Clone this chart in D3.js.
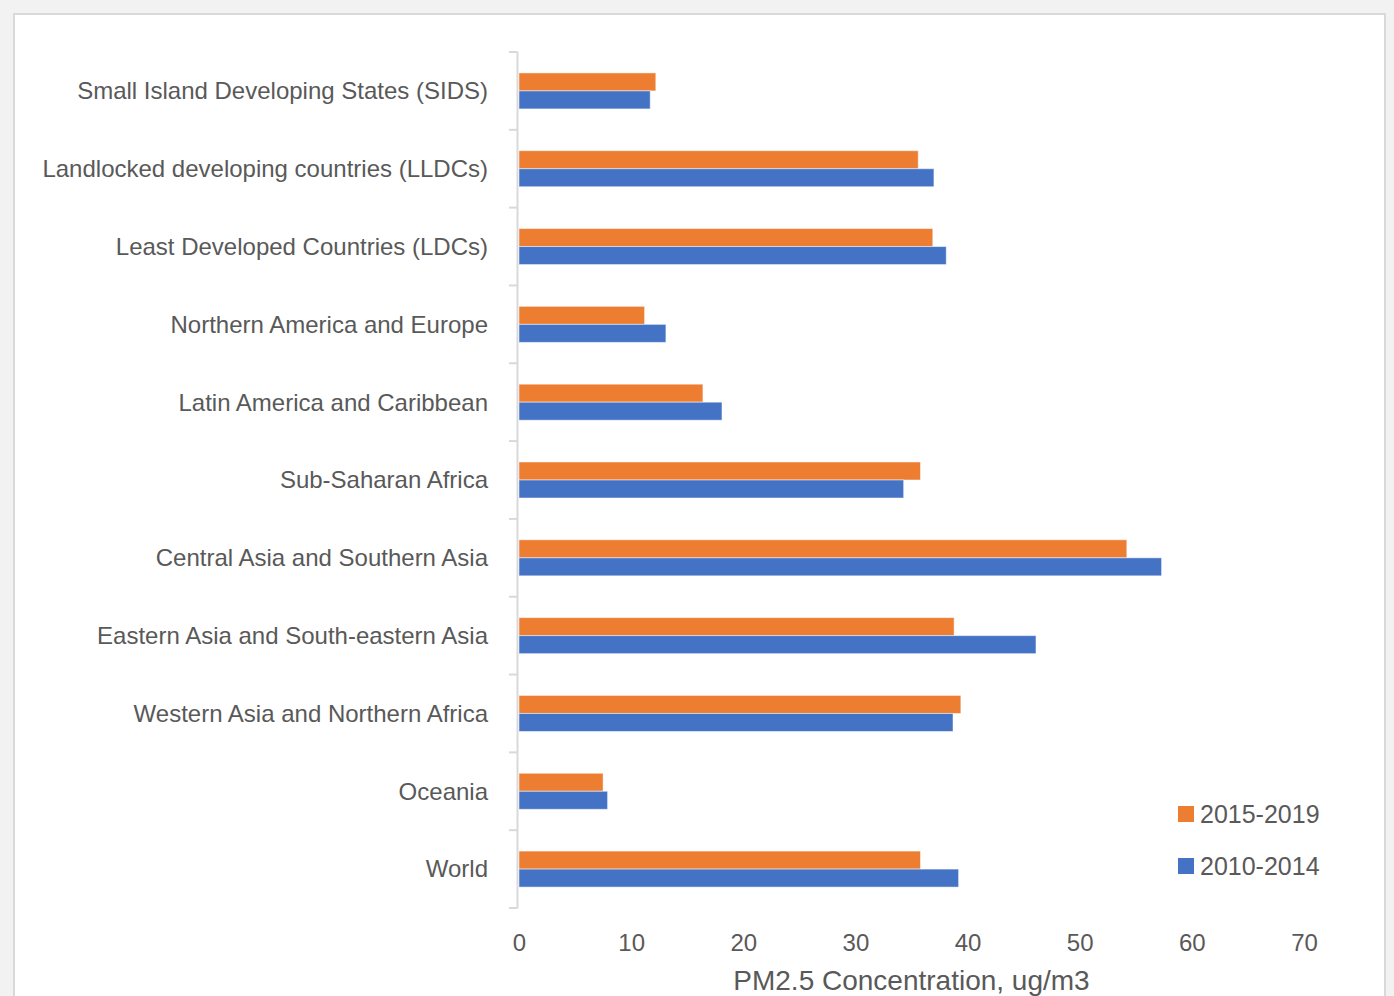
<!DOCTYPE html>
<html>
<head>
<meta charset="utf-8">
<script src="https://cdn.jsdelivr.net/npm/d3@7"></script>
<style>
  body { margin: 0; background: #f2f2f2; }
  svg text { font-family: "Liberation Sans", Arial, sans-serif; fill: #595959; }
</style>
</head>
<body>
<div id="main"></div>
<script>
// categories, top to bottom as in the chart
const categories = [
  "Small Island Developing States (SIDS)",
  "Landlocked developing countries (LLDCs)",
  "Least Developed Countries (LDCs)",
  "Northern America and Europe",
  "Latin America and Caribbean",
  "Sub-Saharan Africa",
  "Central Asia and Southern Asia",
  "Eastern Asia and South-eastern Asia",
  "Western Asia and Northern Africa",
  "Oceania",
  "World"
];
const series = ["2015-2019", "2010-2014"];
const values2015 = [12.2, 35.6, 36.9, 11.2, 16.4, 35.8, 54.2, 38.8, 39.4, 7.5, 35.8];
const values2010 = [11.7, 37.0, 38.1, 13.1, 18.1, 34.3, 57.3, 46.1, 38.7, 7.9, 39.2];
const xTicks = [0, 10, 20, 30, 40, 50, 60, 70];
const axisTitle = "PM2.5 Concentration, ug/m3";

const colors = {"2015-2019": "#ED7D31", "2010-2014": "#4472C4"};

const ctx = {
  width: 1394,
  height: 996,
  plotLeft: 519,
  plotRight: 1304,
  plotTop: 52,
  plotBottom: 908
};

function createViz() {
  const svg = d3.select("#main").append("svg")
    .attr("width", ctx.width)
    .attr("height", ctx.height);

  // chart panel
  svg.append("rect")
    .attr("x", 14).attr("y", 14)
    .attr("width", 1371).attr("height", 1000)
    .attr("fill", "#fff")
    .attr("stroke", "#d9d9d9")
    .attr("stroke-width", 2);

  const x = d3.scaleLinear().domain([0, 70]).range([ctx.plotLeft, ctx.plotRight]);
  const y = d3.scaleBand().domain(categories).range([ctx.plotTop, ctx.plotBottom]);
  const ySub = d3.scaleBand().domain(series).range([0, y.bandwidth()]).paddingOuter(1.16);

  const rows = categories.map((c, i) => ({cat: c, "2015-2019": values2015[i], "2010-2014": values2010[i]}));

  // bars
  const groups = svg.append("g").selectAll("g")
    .data(rows).enter().append("g")
    .attr("transform", d => `translate(0,${y(d.cat)})`);

  groups.selectAll("rect")
    .data(d => series.map(s => ({s: s, v: d[s]})))
    .enter().append("rect")
    .attr("x", x(0))
    .attr("y", d => ySub(d.s))
    .attr("width", d => x(d.v) - x(0))
    .attr("height", ySub.bandwidth())
    .attr("fill", d => colors[d.s])
    .attr("stroke", "#ffffff")
    .attr("stroke-opacity", 0.5)
    .attr("stroke-width", 1);

  // category axis line and separators
  const axisG = svg.append("g");
  axisG.append("line")
    .attr("x1", ctx.plotLeft - 1.5).attr("x2", ctx.plotLeft - 1.5)
    .attr("y1", ctx.plotTop).attr("y2", ctx.plotBottom)
    .attr("stroke", "#d9d9d9").attr("stroke-width", 2);
  const bounds = categories.map(c => y(c)).concat([y.range()[1]]);
  axisG.selectAll("line.sep").data(bounds).enter().append("line")
    .attr("class", "sep")
    .attr("x1", ctx.plotLeft - 10).attr("x2", ctx.plotLeft - 1.5)
    .attr("y1", d => d).attr("y2", d => d)
    .attr("stroke", "#d9d9d9").attr("stroke-width", 2);

  // category labels
  svg.append("g").selectAll("text")
    .data(categories).enter().append("text")
    .attr("x", 488)
    .attr("y", d => y(d) + y.bandwidth() / 2)
    .attr("dy", "0.35em")
    .attr("text-anchor", "end")
    .style("font-size", "24px")
    .text(d => d);

  // value axis
  const xAxis = svg.append("g")
    .attr("transform", `translate(0,${ctx.plotBottom})`)
    .call(d3.axisBottom(x).tickValues(xTicks).tickSize(0).tickPadding(26));
  xAxis.select(".domain").remove();
  xAxis.selectAll("text")
    .style("font-size", "24px")
    .style("font-family", "Liberation Sans, Arial, sans-serif")
    .attr("fill", "#595959");

  svg.append("text")
    .attr("x", (ctx.plotLeft + ctx.plotRight) / 2)
    .attr("y", 990)
    .attr("text-anchor", "middle")
    .style("font-size", "28px")
    .text(axisTitle);

  // legend
  const legend = svg.append("g").selectAll("g")
    .data(series).enter().append("g")
    .attr("transform", (d, i) => `translate(1178,${806 + i * 52})`);
  legend.append("rect")
    .attr("width", 16).attr("height", 16)
    .attr("fill", d => colors[d]);
  legend.append("text")
    .attr("x", 22).attr("y", 8)
    .attr("dy", "0.36em")
    .style("font-size", "25px")
    .text(d => d);
}

createViz();
</script>
</body>
</html>
